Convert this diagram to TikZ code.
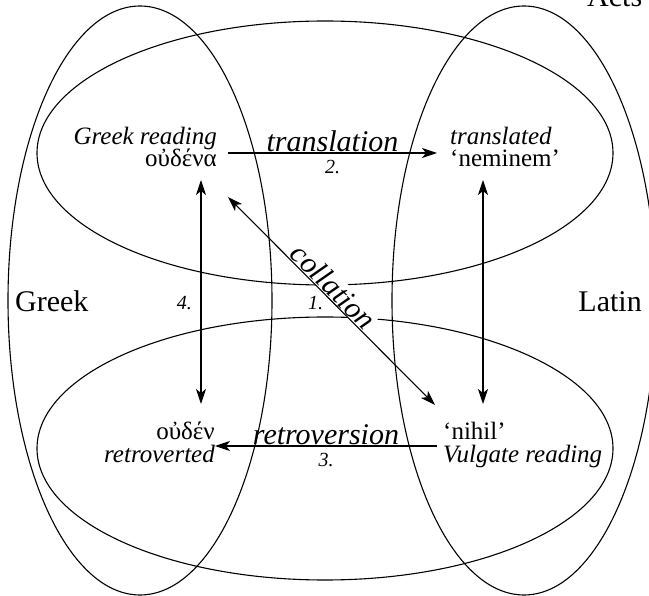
\documentclass[tikz,border=0pt]{standalone}
\usepackage{fontspec}
\setmainfont{Liberation Serif}
\usetikzlibrary{arrows.meta}
\begin{document}
\begin{tikzpicture}[x=1pt,y=-1pt,
  ell/.style={draw=black, line width=1.1pt},
  txt/.style={font=\fontsize{25}{28}\selectfont, inner sep=0pt},
  big/.style={font=\fontsize{30}{34}\selectfont, inner sep=0pt},
  lab/.style={font=\fontsize{30}{33}\selectfont\itshape, inner sep=1pt},
  num/.style={font=\fontsize{20}{23}\selectfont\itshape, inner sep=2pt},
  arr/.style={line width=1.1pt, -{Stealth[length=15pt,width=10pt,inset=4pt]}},
  arrboth/.style={line width=1.1pt, {Stealth[length=15pt,width=10pt,inset=4pt]}-{Stealth[length=15pt,width=10pt,inset=4pt]}}]
\useasboundingbox (0,0) rectangle (649,596);
\clip (0,0) rectangle (649,596);
% ellipses
\draw[ell] (140,300.5) ellipse [x radius=132pt, y radius=294.5pt];
\draw[ell] (524,300.5) ellipse [x radius=132pt, y radius=294.5pt];
\draw[ell] (325,153) ellipse [x radius=288pt, y radius=132pt];
\draw[ell] (325,448.5) ellipse [x radius=288pt, y radius=131.5pt];
% text nodes
\node[txt, anchor=base east] (gr1) at (217,145) {\itshape Greek reading};
\node[txt, anchor=base east] (gr2) at (217,167) {οὐδένα};
\node[txt, anchor=base west] (tl1) at (450,145) {\itshape translated};
\node[txt, anchor=base west] (tl2) at (450,167) {‘neminem’};
\node[txt, anchor=base east] (rt1) at (215,440) {οὐδέν};
\node[txt, anchor=base east] (rt2) at (215,463) {\itshape retroverted};
\node[txt, anchor=base west] (vg1) at (443,440) {‘nihil’};
\node[txt, anchor=base west] (vg2) at (443,463) {\itshape Vulgate reading};
\node[big, anchor=base west] (greek) at (15,312) {Greek};
\node[big, anchor=base east] (latin) at (642,312) {Latin};
\node[big, anchor=base west] (acts) at (587,7) {Acts};
% connector end points
\coordinate (t1) at (228,153);
\coordinate (t2) at (437,153);
\coordinate (r1) at (437,446);
\coordinate (r2) at (215,446);
\coordinate (c1) at (228,197);
\coordinate (c2) at (435,405);
\coordinate (la) at (201,180);
\coordinate (lb) at (201,404);
\coordinate (ra) at (483,180);
\coordinate (rb) at (483,404);
% collation label (white background over ellipses)
\path (c1) -- (c2) node[lab, pos=0.47, sloped, above, fill=white] (coll) {collation};
% connectors
\draw[arr] (t1) -- node[lab, above] (trl) {translation} node[num, below=5pt] (n2) {2.} (t2);
\draw[arr] (r1) -- node[lab, above] (rtl) {retroversion} node[num, below=5pt] (n3) {3.} (r2);
\draw[arrboth] (c1) -- (c2);
\draw[arrboth] (la) -- (lb);
\draw[arrboth] (ra) -- (rb);
\node[num, anchor=base east, inner sep=0pt] (n4) at (192,310) {4.};
\node[num, anchor=base west, inner sep=0pt] (n1) at (308,310) {1.};
\end{tikzpicture}
\end{document}
